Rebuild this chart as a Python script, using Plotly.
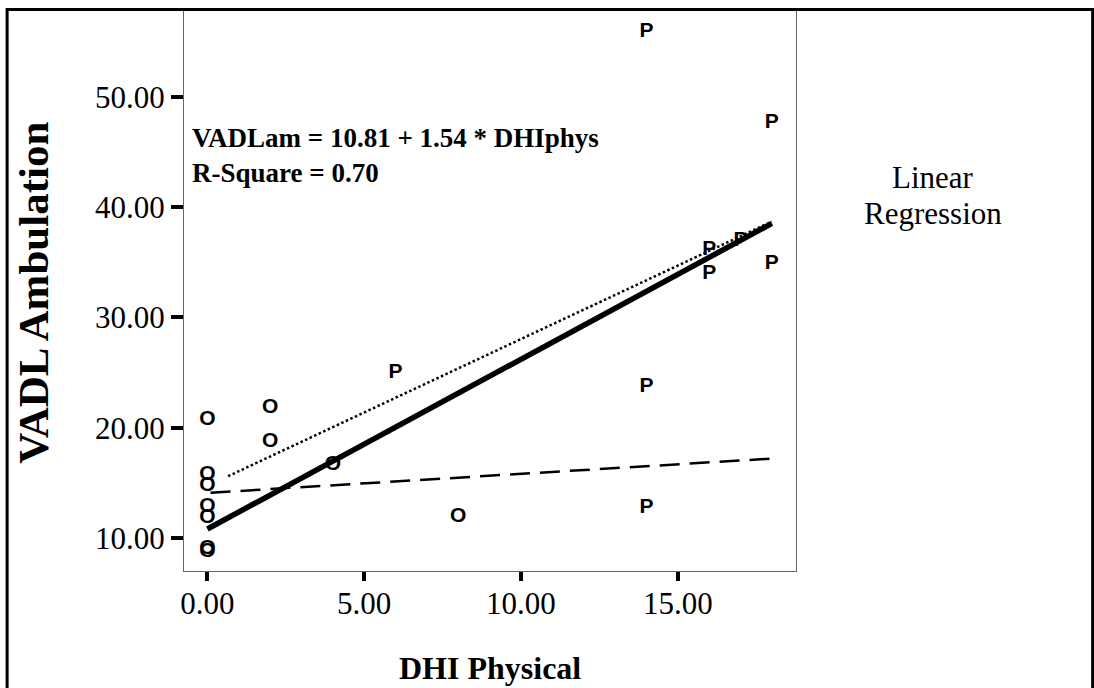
import plotly.graph_objects as go

# ---- data ----
o_x = [0, 0, 0, 0, 0, 0, 0, 2, 2, 4, 8]
o_y = [20.7, 15.7, 14.7, 12.8, 11.8, 8.75, 9.05, 21.8, 18.7, 16.6, 11.9]
p_x = [6, 14, 14, 14, 16, 16, 17, 18, 18]
p_y = [25.0, 55.9, 23.7, 12.7, 36.1, 34.0, 37.0, 47.7, 34.9]

fit_x = [0.0, 18.0]
fit_y = [10.81, 38.53]
dot_x = [0.66, 18.0]
dot_y = [15.6, 38.7]
dash_x = [0.1, 18.0]
dash_y = [14.1, 17.2]

x_ticks = [0, 5, 10, 15]
y_ticks = [10, 20, 30, 40, 50]

equation = "VADLam = 10.81 + 1.54 * DHIphys"
rsq = "R-Square = 0.70"

# ---- layout geometry (pixels) ----
W, H = 1094, 688
L, R, T, B = 184.3, 796.0, 11.0, 570.7


def px_x(px):
    return (px - L) / (R - L)


def px_y(py):
    return (B - py) / (B - T)


SERIF = "Liberation Serif, Times New Roman, serif"
SANS = "Liberation Sans, Arial, sans-serif"

fig = go.Figure()
fig.add_trace(go.Scatter(x=dash_x, y=dash_y, mode="lines",
                         line=dict(color="black", width=2.5, dash="20px,10px"),
                         hoverinfo="skip", showlegend=False))
fig.add_trace(go.Scatter(x=dot_x, y=dot_y, mode="lines",
                         line=dict(color="black", width=2.5, dash="2.5px,2.5px"),
                         hoverinfo="skip", showlegend=False))
fig.add_trace(go.Scatter(x=fit_x, y=fit_y, mode="lines",
                         line=dict(color="black", width=5.5),
                         hoverinfo="skip", showlegend=False))
fig.add_trace(go.Scatter(x=o_x, y=o_y, mode="text", text=["O"] * len(o_x),
                         textposition="middle center",
                         textfont=dict(family=SANS, size=21, color="black", weight="bold"),
                         hoverinfo="skip", showlegend=False))
fig.add_trace(go.Scatter(x=p_x, y=p_y, mode="text", text=["P"] * len(p_x),
                         textposition="middle center",
                         textfont=dict(family=SANS, size=21, color="black", weight="bold"),
                         hoverinfo="skip", showlegend=False))

axis_common = dict(showgrid=False, zeroline=False, showline=True, mirror=True,
                   linecolor="#666666", linewidth=1, ticks="outside",
                   tickcolor="black", tickwidth=4, tickformat=".2f",
                   tickfont=dict(family=SERIF, size=31, color="black"))

fig.update_xaxes(range=[-0.746, 18.77], tickvals=x_ticks, ticklen=9,
                 ticklabelstandoff=-4, **axis_common)
fig.update_yaxes(range=[7.0, 57.8], tickvals=y_ticks, ticklen=12, ticklabelstandoff=0,
                 **axis_common)

annos = [
    dict(text=equation, x=px_x(190), y=px_y(138), xanchor="left", yanchor="middle",
         font=dict(family=SERIF, size=27, color="black", weight="bold")),
    dict(text=rsq, x=px_x(190), y=px_y(173), xanchor="left", yanchor="middle",
         font=dict(family=SERIF, size=27, color="black", weight="bold")),
    dict(text="Linear", x=px_x(933), y=px_y(177), xanchor="center", yanchor="middle",
         font=dict(family=SERIF, size=31, color="black")),
    dict(text="Regression", x=px_x(933), y=px_y(213), xanchor="center", yanchor="middle",
         font=dict(family=SERIF, size=31, color="black")),
    dict(text="DHI Physical", x=px_x(490), y=px_y(668), xanchor="center", yanchor="middle",
         font=dict(family=SERIF, size=32, color="black", weight="bold")),
    dict(text="VADL Ambulation", x=px_x(34), y=px_y(293), xanchor="center", yanchor="middle",
         textangle=-90, font=dict(family=SERIF, size=43, color="black", weight="bold")),
]
for a in annos:
    a.update(xref="paper", yref="paper", showarrow=False)

fig.update_layout(
    width=W, height=H,
    margin=dict(l=L, r=W - R, t=T, b=H - B, pad=0),
    paper_bgcolor="white", plot_bgcolor="white",
    annotations=annos,
    shapes=[dict(type="rect", xref="paper", yref="paper",
                 x0=px_x(7.5), x1=px_x(1092.5), y0=px_y(720), y1=px_y(9.5),
                 line=dict(color="black", width=3), layer="above")],
)

fig.write_html("out.html", config={"displayModeBar": False},
               post_script="document.body.style.margin='0px';")
